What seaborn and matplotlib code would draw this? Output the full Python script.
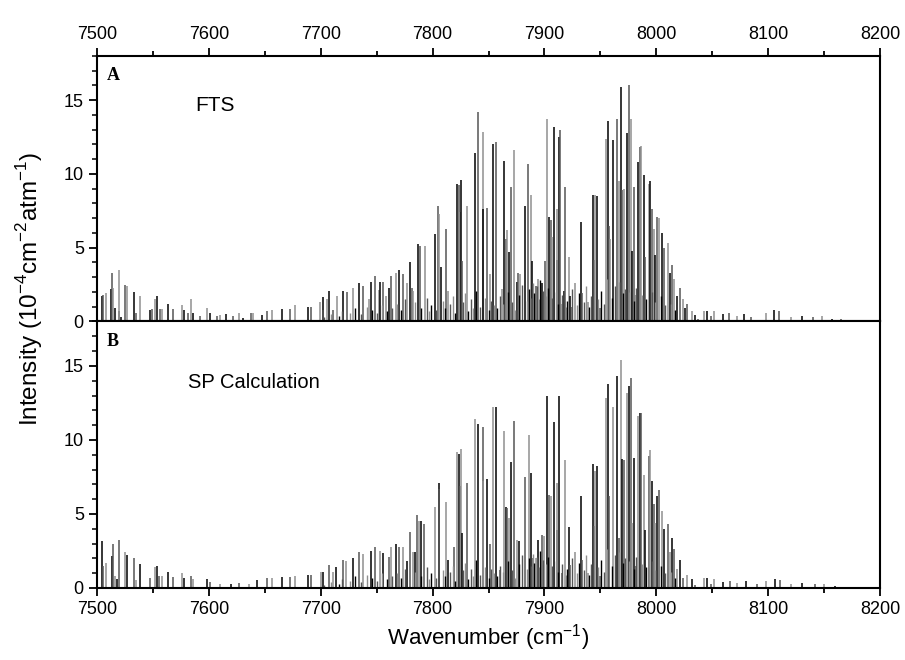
import numpy as np
import matplotlib
matplotlib.use("Agg")
import matplotlib.pyplot as plt
import seaborn as sns
from matplotlib.ticker import MultipleLocator

# ---- panel A : FTS measured line intensities (10^-4 cm^-2 atm^-1) ----
fts_pos = [
    7504.7, 7505.6, 7508.0, 7512.5, 7513.7, 7514.6, 7516.4, 7519.4, 7520.0, 7521.2,
    7525.0, 7526.5, 7533.0, 7534.8, 7538.4, 7547.4, 7549.2, 7551.8, 7553.3, 7556.3,
    7558.1, 7563.8, 7568.2, 7575.7, 7577.8, 7581.6, 7584.0, 7586.1, 7592.1, 7598.6,
    7601.0, 7607.0, 7610.0, 7615.3, 7621.9, 7627.0, 7630.8, 7637.4, 7639.7, 7647.2,
    7651.7, 7656.1, 7665.0, 7672.5, 7677.0, 7688.9, 7691.0, 7699.3, 7701.7, 7702.0,
    7705.3, 7707.7, 7711.3, 7714.9, 7720.2, 7723.2, 7729.2, 7734.5, 7738.1, 7742.9,
    7744.7, 7748.5, 7752.4, 7753.0, 7756.0, 7758.4, 7760.8, 7762.9, 7767.6, 7770.0,
    7773.3, 7777.5, 7779.8, 7781.4, 7782.8, 7786.7, 7788.8, 7793.0, 7801.9, 7805.2,
    7806.0, 7807.3, 7812.0, 7814.1, 7821.6, 7823.3, 7824.5, 7825.1, 7826.3, 7830.5,
    7838.0, 7840.6, 7844.8, 7845.4, 7849.0, 7851.4, 7853.7, 7856.4, 7861.8, 7864.2,
    7865.7, 7866.9, 7868.6, 7870.4, 7872.8, 7875.2, 7876.7, 7878.2, 7882.7, 7885.6,
    7887.7, 7889.2, 7892.5, 7894.3, 7897.6, 7900.5, 7902.0, 7904.4, 7905.6, 7906.8,
    7908.3, 7911.0, 7911.6, 7913.0, 7913.6, 7915.4, 7917.7, 7918.3, 7921.9, 7923.1,
    7924.3, 7927.3, 7932.6, 7933.8, 7938.6, 7943.1, 7944.6, 7945.5, 7947.2, 7949.6,
    7954.7, 7957.1, 7957.7, 7958.6, 7961.3, 7964.8, 7966.6, 7968.1, 7969.0, 7971.1,
    7973.8, 7975.6, 7977.3, 7978.5, 7979.7, 7981.8, 7983.9, 7985.1, 7986.3, 7988.7,
    7989.9, 7993.4, 7994.6, 7995.8, 7997.6, 7998.8, 8000.6, 8002.7, 8005.4, 8007.1,
    8010.1, 8011.9, 8014.3, 8015.8, 8018.5, 8021.2, 8023.8, 8025.6, 8027.7, 8031.6,
    8034.6, 8037.5, 8043.0, 8045.3, 8048.9, 8051.8, 8060.0, 8065.0, 8072.0, 8078.0,
    8085.0, 8098.0, 8105.0, 8110.0, 8120.0, 8130.0, 8140.0, 8148.0, 8157.0, 8165.0,
]
fts_int = [
    1.7, 1.8, 1.9, 2.2, 3.3, 2.25, 0.9, 0.7, 3.5, 0.3,
    2.5, 2.4, 2.0, 0.6, 1.75, 0.75, 0.85, 1.5, 1.7, 0.85,
    0.85, 1.2, 0.85, 1.1, 0.75, 0.55, 1.5, 0.55, 0.35, 0.9,
    0.55, 0.35, 0.45, 0.5, 0.35, 0.55, 0.25, 0.55, 0.55, 0.45,
    0.7, 0.75, 0.85, 0.85, 1.15, 1.0, 1.0, 1.35, 1.65, 0.8,
    1.55, 2.1, 0.8, 1.7, 2.1, 2.0, 2.25, 2.6, 2.4, 1.55,
    2.7, 3.05, 2.15, 2.7, 2.65, 1.7, 2.3, 3.1, 3.3, 3.5,
    3.2, 2.6, 4.0, 2.3, 2.1, 5.25, 5.1, 5.1, 5.9, 7.85,
    7.3, 3.7, 6.3, 2.1, 9.35, 9.25, 7.4, 9.6, 4.1, 7.8,
    11.4, 14.2, 12.85, 7.6, 7.7, 3.2, 12.05, 12.2, 2.2, 10.9,
    5.6, 6.2, 4.7, 9.1, 11.6, 2.7, 3.3, 3.2, 7.85, 10.7,
    8.6, 4.1, 2.4, 2.9, 2.6, 4.1, 13.7, 7.05, 6.9, 5.7,
    13.2, 4.2, 7.6, 12.5, 12.95, 1.2, 2.1, 9.1, 4.4, 1.7,
    1.0, 2.6, 6.75, 1.9, 1.3, 8.6, 4.2, 8.6, 8.5, 0.9,
    12.35, 13.6, 6.5, 5.6, 12.3, 13.7, 9.5, 15.9, 8.9, 8.95,
    12.8, 16.0, 13.7, 4.8, 9.1, 1.8, 10.8, 11.8, 11.9, 9.9,
    4.35, 9.3, 9.5, 7.6, 6.3, 4.5, 7.1, 7.0, 6.0, 5.0,
    5.3, 3.3, 3.8, 2.9, 1.7, 2.25, 1.5, 0.9, 1.2, 0.7,
    0.45, 0.2, 0.7, 0.7, 0.35, 0.7, 0.5, 0.6, 0.4, 0.5,
    0.3, 0.6, 0.8, 0.7, 0.3, 0.4, 0.3, 0.4, 0.2, 0.15,
]

# weak lines forming the dense base of the band
weak_pos = [
    7703, 7709, 7716, 7719, 7726, 7731, 7736, 7741, 7746, 7750,
    7755, 7759, 7764, 7768, 7772, 7775, 7784, 7790, 7795, 7797,
    7799, 7803, 7809, 7811, 7816, 7818, 7820, 7827, 7829, 7832,
    7834, 7836, 7839, 7842, 7847, 7850, 7852, 7855, 7858, 7860,
    7863, 7867, 7871, 7874, 7877, 7880, 7884, 7886, 7888, 7890,
    7891, 7893, 7895, 7896, 7899, 7901, 7903, 7907, 7910, 7912,
    7916, 7919, 7920, 7925, 7929, 7931, 7935, 7937, 7940, 7942,
    7948, 7951, 7953, 7956, 7960, 7963, 7967, 7970, 7972, 7976,
    7980, 7982, 7987, 7991, 7996, 7999, 8004, 8008, 8013, 8017,
]
fts_weak_int = [
    0.3, 0.5, 0.4, 0.7, 0.6, 0.9, 0.5, 1.0, 0.8, 0.6,
    1.1, 0.7, 0.9, 1.2, 0.8, 1.5, 1.3, 0.9, 1.6, 0.7,
    1.1, 0.8, 1.4, 0.9, 1.2, 1.7, 0.6, 1.3, 1.9, 0.7,
    1.5, 0.9, 2.1, 1.0, 1.6, 0.8, 1.4, 1.1, 0.9, 1.7,
    1.2, 2.0, 1.3, 0.8, 1.8, 2.5, 1.4, 2.2, 1.6, 2.6,
    1.9, 2.4, 1.5, 2.8, 2.1, 1.7, 2.3, 1.6, 2.0, 1.2,
    1.8, 1.0, 1.4, 2.2, 1.1, 1.9, 1.3, 2.4, 1.0, 1.7,
    1.5, 2.1, 1.2, 2.9, 1.6, 2.4, 2.7, 1.9, 2.2, 2.0,
    1.4, 2.3, 1.8, 1.5, 2.0, 1.3, 1.7, 1.1, 1.2, 0.8,
]

# ---- panel B : SP calculation ----
sp_pos = [
    7504.7, 7505.6, 7508.0, 7513.1, 7514.6, 7516.4, 7518.2, 7520.0, 7525.0, 7526.5,
    7533.0, 7534.8, 7538.4, 7547.4, 7551.8, 7553.3, 7555.7, 7558.1, 7563.8, 7568.2,
    7575.7, 7577.8, 7584.0, 7586.1, 7598.6, 7601.0, 7610.0, 7620.0, 7627.0, 7636.0,
    7642.7, 7651.7, 7656.1, 7665.0, 7672.5, 7677.0, 7688.9, 7691.0, 7699.9, 7701.7,
    7707.7, 7710.7, 7713.6, 7720.2, 7722.6, 7729.2, 7734.5, 7738.1, 7744.7, 7748.3,
    7753.0, 7756.0, 7760.8, 7762.9, 7767.6, 7770.0, 7773.3, 7777.5, 7779.5, 7782.8,
    7784.4, 7786.4, 7788.2, 7789.4, 7792.7, 7802.2, 7805.5, 7806.1, 7812.0, 7814.1,
    7819.5, 7821.9, 7823.6, 7824.5, 7825.1, 7826.6, 7830.5, 7838.0, 7840.3, 7844.8,
    7845.4, 7849.0, 7851.4, 7854.0, 7856.7, 7860.3, 7864.2, 7865.7, 7866.9, 7868.6,
    7870.4, 7872.8, 7875.8, 7877.6, 7882.7, 7885.9, 7887.7, 7889.5, 7892.5, 7894.6,
    7897.6, 7900.0, 7902.0, 7903.8, 7905.6, 7908.3, 7911.0, 7911.6, 7913.0, 7915.4,
    7918.3, 7921.9, 7923.1, 7927.3, 7932.6, 7933.8, 7938.6, 7943.1, 7944.6, 7945.5,
    7947.2, 7949.6, 7954.7, 7957.1, 7957.7, 7961.3, 7964.8, 7966.6, 7968.1, 7969.0,
    7971.1, 7973.8, 7975.6, 7977.3, 7978.5, 7979.7, 7981.8, 7983.9, 7985.1, 7986.3,
    7988.7, 7989.9, 7993.4, 7994.6, 7995.8, 7997.6, 7998.8, 8000.6, 8002.7, 8005.4,
    8007.1, 8010.1, 8011.9, 8014.3, 8015.8, 8018.5, 8021.2, 8023.8, 8027.7, 8031.6,
    8034.6, 8043.0, 8045.3, 8048.9, 8051.8, 8060.0, 8066.0, 8072.0, 8080.0, 8090.0,
    8098.0, 8106.0, 8111.0, 8120.0, 8130.0, 8142.0, 8150.0, 8160.0,
]
sp_int = [
    3.2, 1.5, 1.7, 2.15, 3.0, 0.8, 0.6, 3.25, 2.45, 2.2,
    2.0, 0.55, 1.6, 0.7, 1.4, 1.5, 0.8, 0.8, 1.1, 0.75,
    1.0, 0.65, 0.8, 0.6, 0.6, 0.4, 0.3, 0.25, 0.35, 0.3,
    0.55, 0.65, 0.65, 0.75, 0.75, 0.8, 0.9, 0.9, 1.1, 1.05,
    1.55, 1.1, 1.45, 1.9, 1.85, 2.05, 2.4, 2.3, 2.5, 2.75,
    2.5, 2.35, 2.1, 2.8, 2.95, 2.8, 2.75, 1.8, 3.8, 2.45,
    2.4, 4.9, 4.55, 4.5, 4.3, 5.45, 7.1, 6.7, 5.8, 1.9,
    2.8, 9.2, 9.05, 6.9, 9.4, 3.7, 7.1, 11.4, 11.1, 10.85,
    7.2, 7.35, 3.0, 12.2, 12.2, 1.2, 10.6, 5.5, 5.4, 4.7,
    8.5, 11.3, 3.25, 3.2, 7.5, 10.3, 7.75, 2.0, 2.0, 3.25,
    3.6, 3.5, 13.0, 6.3, 6.2, 11.2, 3.9, 7.1, 13.0, 1.0,
    8.65, 4.15, 1.55, 2.4, 6.2, 1.9, 1.0, 8.4, 4.2, 7.9,
    8.25, 0.8, 12.8, 13.8, 6.2, 12.2, 14.3, 3.4, 15.4, 8.7,
    8.65, 13.15, 13.65, 14.2, 4.4, 8.8, 1.5, 11.6, 11.85, 11.85,
    7.6, 3.9, 8.9, 9.3, 7.2, 5.7, 4.4, 6.2, 6.6, 5.2,
    4.0, 4.3, 2.4, 3.35, 2.6, 1.3, 1.9, 0.7, 0.9, 0.6,
    0.2, 0.65, 0.65, 0.3, 0.6, 0.4, 0.5, 0.35, 0.45, 0.25,
    0.5, 0.6, 0.55, 0.3, 0.35, 0.25, 0.3, 0.15,
]
sp_weak_int = [
    0.2, 0.4, 0.3, 0.6, 0.5, 0.8, 0.4, 0.9, 0.7, 0.5,
    1.0, 0.6, 0.8, 1.0, 0.7, 1.3, 1.1, 0.8, 1.4, 0.6,
    1.0, 0.7, 1.2, 0.8, 1.1, 1.5, 0.5, 1.2, 1.7, 0.6,
    1.3, 0.8, 1.9, 0.9, 1.4, 0.7, 1.3, 1.0, 0.8, 1.5,
    1.1, 1.8, 1.2, 0.7, 1.6, 2.2, 1.3, 2.0, 1.5, 2.3,
    1.7, 2.1, 1.4, 2.5, 1.9, 1.6, 2.1, 1.5, 1.8, 1.1,
    1.6, 0.9, 1.3, 2.0, 1.0, 1.7, 1.2, 2.2, 0.9, 1.6,
    1.4, 1.9, 1.1, 2.6, 1.5, 2.2, 2.4, 1.7, 2.0, 1.8,
    1.3, 2.1, 1.6, 1.4, 1.8, 1.2, 1.5, 1.0, 1.1, 0.7,
]

panel_labels = ["A", "B"]
panel_titles = ["FTS", "SP Calculation"]

sns.set_style("ticks")
plt.rcParams["font.family"] = ["Liberation Sans", "DejaVu Sans"]
plt.rcParams["text.color"] = "black"
plt.rcParams["axes.labelcolor"] = "black"
plt.rcParams["axes.edgecolor"] = "black"
plt.rcParams["xtick.color"] = "black"
plt.rcParams["ytick.color"] = "black"
plt.rcParams["mathtext.fontset"] = "custom"
plt.rcParams["mathtext.rm"] = "Liberation Sans"

shades = ["#000000", "#555555", "#8f8f8f"]

fig = plt.figure(figsize=(9.05, 6.6), dpi=100)
ax_top = fig.add_axes([0.1072, 0.5129, 0.8652, 0.4023])
ax_bot = fig.add_axes([0.1072, 0.1091, 0.8652, 0.4038])


def draw_sticks(ax, pos, inten, weak_int):
    pos = np.asarray(pos)
    inten = np.asarray(inten)
    cols = [shades[i % 3] for i in range(len(pos))]
    ax.vlines(pos, 0, inten, colors=cols, linewidth=1.1)
    wcols = [shades[(i + 1) % 3] for i in range(len(weak_pos))]
    ax.vlines(weak_pos, 0, weak_int, colors=wcols, linewidth=1.0)


draw_sticks(ax_top, fts_pos, fts_int, fts_weak_int)
draw_sticks(ax_bot, sp_pos, sp_int, sp_weak_int)

for ax, lab in zip([ax_top, ax_bot], panel_labels):
    ax.set_xlim(7500, 8200)
    ax.set_ylim(0, 18)
    ax.xaxis.set_major_locator(MultipleLocator(100))
    ax.xaxis.set_minor_locator(MultipleLocator(50))
    ax.yaxis.set_major_locator(MultipleLocator(5))
    ax.yaxis.set_minor_locator(MultipleLocator(1))
    for s in ax.spines.values():
        s.set_linewidth(1.5)
        s.set_visible(True)
    ax.tick_params(axis="y", which="major", direction="out", length=6, width=1.3, labelsize=13)
    ax.tick_params(axis="y", which="minor", direction="out", length=3.5, width=1.1)
    ax.text(0.012, 0.925, lab, transform=ax.transAxes, fontsize=13, fontweight="bold",
            family="Liberation Serif", va="center", ha="left")
    ax.set_ylabel("")

ax_top.text(0.126, 0.815, panel_titles[0], transform=ax_top.transAxes, fontsize=15,
            va="center", ha="left")
ax_bot.text(0.116, 0.77, panel_titles[1], transform=ax_bot.transAxes, fontsize=14.5,
            va="center", ha="left")

ax_top.tick_params(axis="x", which="both", top=True, bottom=False, labeltop=True,
                   labelbottom=False, direction="out", width=1.3, labelsize=13)
ax_top.tick_params(axis="x", which="major", length=6)
ax_top.tick_params(axis="x", which="minor", length=3.5)
ax_bot.tick_params(axis="x", which="both", top=False, bottom=True, labelbottom=True,
                   direction="out", width=1.3, labelsize=13)
ax_bot.tick_params(axis="x", which="major", length=6)
ax_bot.tick_params(axis="x", which="minor", length=3.5)

ax_bot.set_xlabel("Wavenumber (cm$^{-1}$)", fontsize=16, labelpad=3)
fig.text(0.033, 0.563, "Intensity (10$^{-4}$cm$^{-2}$atm$^{-1}$)", rotation=90,
         fontsize=17.5, va="center", ha="center")

fig.savefig("out.png", dpi=100)
